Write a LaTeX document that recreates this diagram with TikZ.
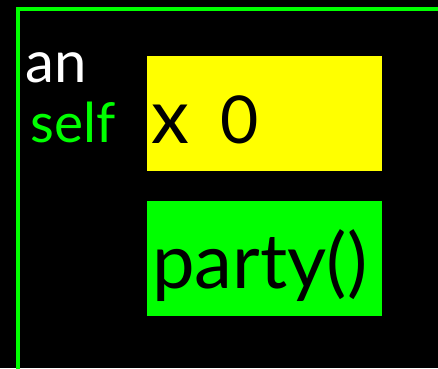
\documentclass[tikz,border=0pt]{standalone}
\usepackage{fontspec}
\setmainfont{Lato}
\usetikzlibrary{positioning}
\definecolor{slotyellow}{RGB}{255,255,0}
\definecolor{objgreen}{RGB}{0,255,0}

\begin{document}
\begin{tikzpicture}[x=1pt, y=-1pt]

% --- Styles ---
\tikzset{
    frameline/.style={draw=objgreen, line width=4pt},
    slotbox/.style={rectangle, inner sep=0pt, minimum width=235pt, minimum height=115pt},
    namelabel/.style={inner sep=0pt, anchor=base west, font=\fontsize{58}{58}\selectfont},
    boxtext/.style={inner sep=0pt, anchor=base west, text=black, font=\fontsize{76}{76}\selectfont}
}

% Background
\fill[black] (0, 0) rectangle (438, 368);
\useasboundingbox (0, 0) rectangle (438, 368);

% Frame of the object
\coordinate (fbl) at (18, 370);
\coordinate (ftl) at (18, 9);
\coordinate (ftr) at (440, 9);
\draw[frameline] (fbl) -- (ftl) -- (ftr);

% Labels
\node[namelabel, text=white] (an) at (25, 82) {an};
\node[namelabel, text=objgreen, font=\fontsize{55}{55}\selectfont] (self) at (30, 142) {self};

% Slot x
\node[slotbox, fill=slotyellow, anchor=north west] (xbox) at (147, 56) {};
\node[boxtext] (xval) at (151, 143) {x\hspace{0.42em}{\fontsize{66}{66}\selectfont 0}};

% Method
\node[slotbox, fill=objgreen, anchor=north west] (partybox) at (147, 201) {};
\node[boxtext] (party) at (152, 288) {party()};

\end{tikzpicture}
\end{document}
